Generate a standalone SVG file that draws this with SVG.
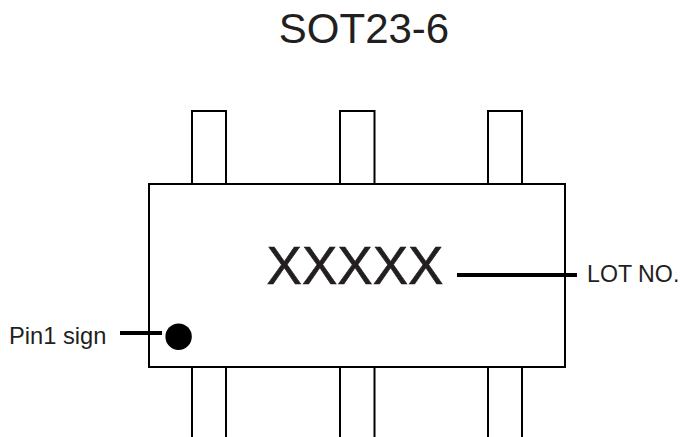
<svg xmlns="http://www.w3.org/2000/svg" width="681" height="437" viewBox="0 0 681 437">
<style>
text{font-family:"Liberation Sans",Arial,sans-serif;fill:#231f20}
.o{fill:none;stroke:#000;stroke-width:2}
.l{fill:none;stroke:#000;stroke-width:4}
</style>
<rect width="681" height="437" fill="#fff"/>
<text x="364" y="42.500" font-size="42" text-anchor="middle">SOT23-6</text>
<g id="pins-top">
<path class="o" d="M192 184V111H226V184"/>
<path class="o" d="M340 184V111H374.500V184"/>
<path class="o" d="M488 184V111H522V184"/>
</g>
<g id="pins-bottom">
<path class="o" d="M192 367V437M226 367V437"/>
<path class="o" d="M340 367V437M374.500 367V437"/>
<path class="o" d="M488 367V437M522 367V437"/>
</g>
<g id="body"><rect class="o" x="149" y="184" width="416" height="183"/></g>
<g id="mark"><text x="355" y="284" font-size="53" text-anchor="middle" stroke="#231f20" stroke-width="0.6">XXXXX</text></g>
<g id="pin1"><circle cx="178.600" cy="336.700" r="13.200" fill="#000"/></g>
<g id="connectors">
<path class="l" d="M457 275H577"/>
<path class="l" d="M120 333H162"/>
</g>
<g id="labels">
<text x="587" y="282" font-size="23.200">LOT NO.</text>
<text x="9" y="344" font-size="23.700">Pin1 sign</text>
</g>
</svg>
